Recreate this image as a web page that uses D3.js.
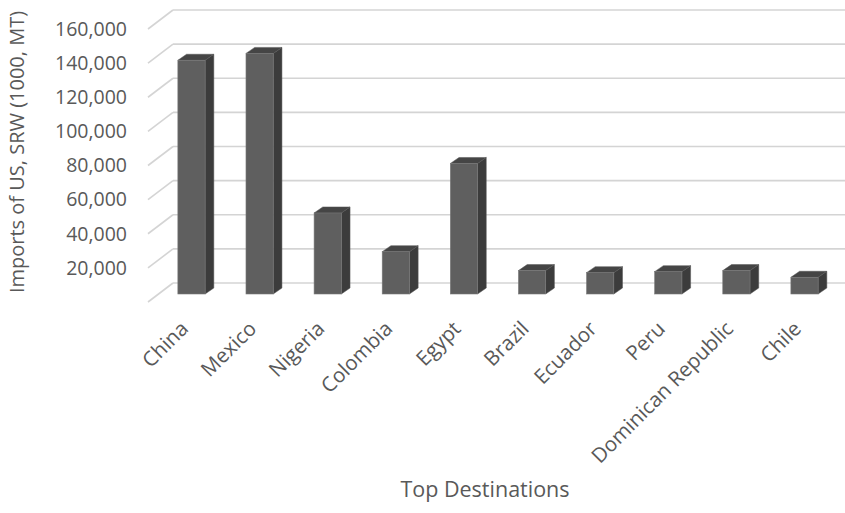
<!DOCTYPE html>
<html>
<head>
<meta charset="utf-8">
<script src="https://cdn.jsdelivr.net/npm/d3@7/dist/d3.min.js"></script>
<style>
  html, body { margin: 0; padding: 0; background: #fff; }
  svg { display: block; }
  text { font-family: "Open Sans", "Noto Sans", sans-serif; fill: #595959; }
</style>
</head>
<body>
<svg id="chart" width="845" height="513"></svg>
<script>
// Top destinations for US SRW wheat exports (1000 MT)
const categories = ["China", "Mexico", "Nigeria", "Colombia", "Egypt", "Brazil",
                    "Ecuador", "Peru", "Dominican Republic", "Chile"];
const imports = [137000, 141000, 47500, 24800, 76500, 13700, 12500, 13100, 13700, 9800];
const yTicks = [0, 20000, 40000, 60000, 80000, 100000, 120000, 140000, 160000];
const yTitle = "Imports of US, SRW (1000, MT)";
const xTitle = "Top Destinations";

const svg = d3.select("#chart");

// 3D projection offsets: back wall vs. front edge of the floor
const depth = { dx: 25, dy: -19 };
const wallLeft = 173, wallRight = 845;

// value scale measured on the back wall
const y = d3.scaleLinear().domain([0, 160000]).range([283, 10]);

// categories laid out on the plane of the bars' front faces
const x = d3.scaleBand().domain(categories).range([137, 859])
  .paddingInner(0.6).paddingOuter(0.6);

// bars sit part-way into the depth of the floor
const barFront = { dx: -14.5, dy: 11 };
const barDepth = { dx: 8.7, dy: -6 };

// gridlines: back wall horizontals plus slanted side-wall lines
const grid = svg.append("g").attr("stroke", "#d4d4d4").attr("stroke-width", 1.6).attr("fill", "none");
grid.selectAll("line.back").data(yTicks).join("line")
  .attr("class", "back")
  .attr("x1", wallLeft).attr("x2", wallRight)
  .attr("y1", d => y(d)).attr("y2", d => y(d));
grid.selectAll("line.side").data(yTicks).join("line")
  .attr("class", "side")
  .attr("x1", wallLeft - depth.dx).attr("y1", d => y(d) - depth.dy)
  .attr("x2", wallLeft).attr("y2", d => y(d));

// y tick labels, aligned with the front ends of the slanted lines
svg.append("g").selectAll("text").data(yTicks.filter(d => d > 0)).join("text")
  .attr("x", 127).attr("y", d => y(d) - depth.dy)
  .attr("dy", "0.35em")
  .attr("text-anchor", "end")
  .attr("font-size", 19.5)
  .text(d => d3.format(",")(d));

// bars drawn as three faces: side, top, front
const bars = svg.append("g").selectAll("g").data(categories.map((c, i) => ({ c, v: imports[i] }))).join("g");
bars.each(function(d) {
  const g = d3.select(this);
  const x0 = x(d.c), x1 = x0 + x.bandwidth();
  const yt = y(d.v) + barFront.dy, yb = y(0) + barFront.dy;
  const ddx = barDepth.dx, ddy = barDepth.dy;
  g.append("path")
    .attr("d", `M${x1},${yt}L${x1 + ddx},${yt + ddy}L${x1 + ddx},${yb + ddy}L${x1},${yb}Z`)
    .attr("fill", "#3c3c3c").attr("stroke", "#555").attr("stroke-width", 0.5);
  g.append("path")
    .attr("d", `M${x0},${yt}L${x0 + ddx},${yt + ddy}L${x1 + ddx},${yt + ddy}L${x1},${yt}Z`)
    .attr("fill", "#454545").attr("stroke", "#555").attr("stroke-width", 0.5);
  g.append("rect")
    .attr("x", x0).attr("y", yt)
    .attr("width", x.bandwidth()).attr("height", yb - yt)
    .attr("fill", "#5f5f5f").attr("stroke", "#7a7a7a").attr("stroke-width", 0.6);
});

// rotated category labels
svg.append("g").selectAll("text").data(categories).join("text")
  .attr("transform", d => `translate(${x(d) + x.bandwidth() / 2 - 2},330) rotate(-45)`)
  .attr("text-anchor", "end")
  .attr("font-size", 20.5)
  .text(d => d);

// axis titles
svg.append("text")
  .attr("transform", "translate(24,152) rotate(-90)")
  .attr("text-anchor", "middle")
  .attr("font-size", 20)
  .text(yTitle);

svg.append("text")
  .attr("x", 485).attr("y", 497)
  .attr("text-anchor", "middle")
  .attr("font-size", 21.5)
  .text(xTitle);
</script>
</body>
</html>
